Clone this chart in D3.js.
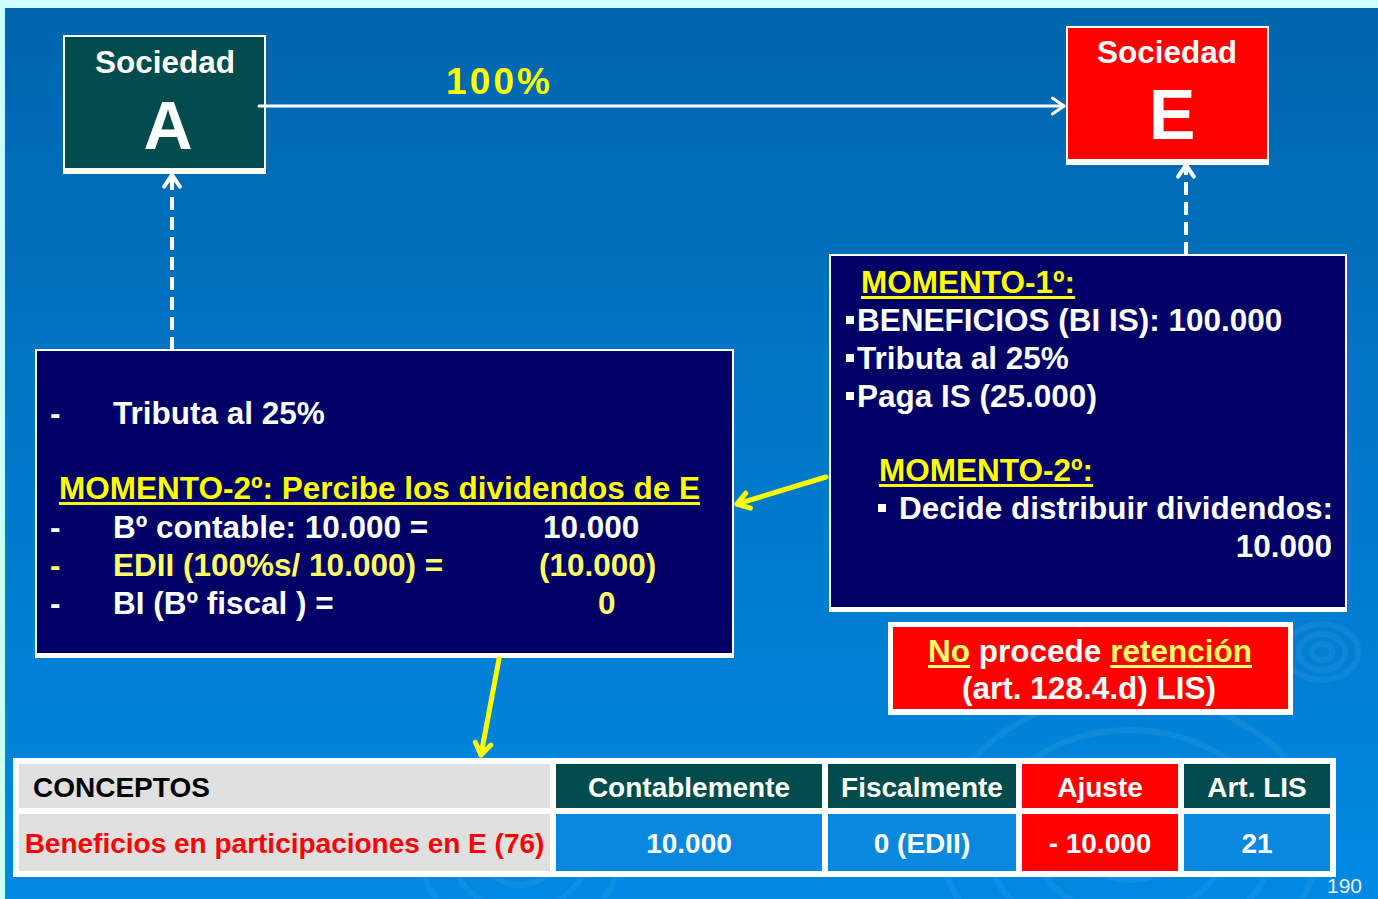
<!DOCTYPE html>
<html>
<head>
<meta charset="utf-8">
<script src="https://cdn.jsdelivr.net/npm/d3@7"></script>
<style>
  html, body { margin: 0; padding: 0; background: #ccffff; }
  svg { display: block; font-family: "Liberation Sans", Arial, sans-serif; }
</style>
</head>
<body>
<svg id="slide" width="1378" height="899"></svg>
<script>
// slide content
const companyA = ["Sociedad", "A"];
const companyE = ["Sociedad", "E"];
const stake = "100%";
const moment1Title = "MOMENTO-1º:";
const moment1Lines = ["BENEFICIOS (BI IS): 100.000", "Tributa al 25%", "Paga IS (25.000)"];
const moment2Title = "MOMENTO-2º:";
const moment2Line = "Decide distribuir dividendos:";
const dividendAmount = "10.000";
const receiverTax = "Tributa al 25%";
const receiverTitle = "MOMENTO-2º: Percibe los dividendos de E";
const calcLabels = ["Bº contable: 10.000 =", "EDII (100%s/ 10.000) =", "BI (Bº fiscal ) ="];
const calcValues = ["10.000", "(10.000)", "0"];
const retentionParts = ["No", " procede ", "retención"];
const retentionNote = "(art. 128.4.d) LIS)";
const tableHeaders = ["CONCEPTOS", "Contablemente", "Fiscalmente", "Ajuste", "Art. LIS"];
const tableRow = ["Beneficios en participaciones en E (76)", "10.000", "0 (EDII)", "- 10.000", "21"];
const pageNumber = "190";

const NAVY = "#000066", TEAL = "#004c4c", RED = "#ff0000", YEL = "#ffff00", PALE = "#ffff66";

const svg = d3.select('#slide');

// background
const defs = svg.append('defs');
const grad = defs.append('linearGradient').attr('id', 'bg').attr('x1', 0).attr('y1', 0).attr('x2', 0).attr('y2', 1);
grad.append('stop').attr('offset', '0%').attr('stop-color', '#0065ad');
grad.append('stop').attr('offset', '100%').attr('stop-color', '#0089e2');

svg.append('rect').attr('width', 1378).attr('height', 899).attr('fill', '#ccffff');
svg.append('rect').attr('x', 5).attr('y', 8).attr('width', 1373).attr('height', 891).attr('fill', 'url(#bg)');

// faint ripples
const ripples = svg.append('g').attr('fill', 'none').attr('stroke', '#ffffff').attr('stroke-opacity', 0.06).attr('stroke-width', 6);
[[1322, 652, [8, 18, 28]], [1130, 840, [40, 75, 110, 145]], [520, 860, [25, 50, 75]]].forEach(([cx, cy, rs]) => {
  rs.forEach(r => ripples.append('ellipse').attr('cx', cx).attr('cy', cy).attr('rx', r * 1.3).attr('ry', r));
});

function txt(g, x, y, s, o = {}) {
  return g.append('text')
    .attr('x', x).attr('y', y)
    .attr('font-size', o.size || 31.5)
    .attr('font-weight', o.weight || 'bold')
    .attr('fill', o.fill || '#ffffff')
    .attr('text-anchor', o.anchor || 'start')
    .text(s);
}

function underline(g, node, y, color) {
  const b = node.node().getBBox();
  g.append('rect').attr('x', b.x).attr('y', y).attr('width', b.width).attr('height', 3).attr('fill', color);
}

function box(x, y, w, h, fill, bottom) {
  svg.append('rect').attr('x', x).attr('y', y).attr('width', w).attr('height', h).attr('fill', '#ffffff');
  svg.append('rect').attr('x', x + 2).attr('y', y + 2).attr('width', w - 4).attr('height', h - 2 - bottom).attr('fill', fill);
}

function arrow(x1, y1, x2, y2, color, width, dash) {
  const line = d3.line();
  const g = svg.append('g').attr('fill', 'none').attr('stroke-linejoin', 'round');
  g.append('path').attr('d', line([[x1, y1], [x2, y2]]))
    .attr('stroke', color).attr('stroke-width', width)
    .attr('stroke-dasharray', dash || null).attr('stroke-linecap', dash ? 'butt' : 'round');
  const a = Math.atan2(y2 - y1, x2 - x1), L = 14, s = 0.6;
  const p1 = [x2 - L * Math.cos(a - s), y2 - L * Math.sin(a - s)];
  const p2 = [x2 - L * Math.cos(a + s), y2 - L * Math.sin(a + s)];
  g.append('path').attr('d', line([p1, [x2, y2], p2]))
    .attr('stroke', color).attr('stroke-width', width).attr('stroke-linecap', 'round');
}

// company boxes
box(63, 35, 203, 139, TEAL, 6);
txt(svg, 165, 73, companyA[0], { anchor: 'middle' });
txt(svg, 168, 149, companyA[1], { size: 68, anchor: 'middle' });

box(1066, 26, 203, 139, RED, 6);
txt(svg, 1167, 63, companyE[0], { anchor: 'middle' });
txt(svg, 1172, 139, companyE[1], { size: 70, anchor: 'middle' });

arrow(259, 106, 1064, 106, '#ffffff', 3);
txt(svg, 446, 94, stake, { size: 37, fill: YEL }).attr('textLength', 104).attr('lengthAdjust', 'spacing');

arrow(172, 350, 172, 175, '#ffffff', 4, '13 7');
arrow(1186, 255, 1186, 165, '#ffffff', 4, '13 7');

// moment 1 box (company E)
box(829, 254, 518, 358, NAVY, 5);
const m1 = svg.append('g');
const m1t = txt(m1, 861, 293, moment1Title, { fill: YEL });
underline(m1, m1t, 296, YEL);
moment1Lines.forEach((s, i) => {
  const y = 331 + i * 38;
  m1.append('rect').attr('x', 846).attr('y', y - 15).attr('width', 8).attr('height', 8).attr('fill', '#ffffff');
  txt(m1, 857, y, s);
});
const m2t = txt(m1, 879, 481, moment2Title, { fill: YEL });
underline(m1, m2t, 484, YEL);
m1.append('rect').attr('x', 878).attr('y', 504).attr('width', 8).attr('height', 8).attr('fill', '#ffffff');
txt(m1, 899, 519, moment2Line);
txt(m1, 1332, 557, dividendAmount, { anchor: 'end' });

// moment 2 box (company A)
box(35, 349, 699, 309, NAVY, 5);
const m2 = svg.append('g');
txt(m2, 50, 424, '-');
txt(m2, 113, 424, receiverTax);
const rt = txt(m2, 59, 499, receiverTitle, { fill: YEL });
underline(m2, rt, 502, YEL);
const valueX = [543, 539, 598];
calcLabels.forEach((s, i) => {
  const y = 538 + i * 38;
  const c = i === 1 ? PALE : '#ffffff';
  txt(m2, 50, y, '-', { fill: c });
  txt(m2, 113, y, s, { fill: c });
  txt(m2, valueX[i], y, calcValues[i], { fill: i === 0 ? '#ffffff' : PALE });
});

arrow(826, 477, 737, 504, YEL, 5);
arrow(499, 659, 481, 755, YEL, 5);

// retention note
svg.append('rect').attr('x', 888).attr('y', 622).attr('width', 405).attr('height', 93).attr('fill', '#ffffff');
svg.append('rect').attr('x', 893).attr('y', 627).attr('width', 395).attr('height', 82).attr('fill', RED);
const rn = svg.append('g');
const partColors = [PALE, '#ffffff', PALE];
const parts = retentionParts.map((s, i) => txt(rn, 0, 662, s, { fill: partColors[i] }).style('white-space', 'pre'));
const widths = parts.map(p => p.node().getComputedTextLength());
let px = 1090 - d3.sum(widths) / 2;
parts.forEach((p, i) => {
  p.attr('x', px);
  if (i !== 1) rn.append('rect').attr('x', px).attr('y', 665).attr('width', widths[i]).attr('height', 3).attr('fill', PALE);
  px += widths[i];
});
txt(rn, 1089, 699, retentionNote, { anchor: 'middle' });

// table
const cols = [[19, 550], [556, 822], [828, 1016], [1022, 1178], [1184, 1330]];
const headFill = ['#e0e0e0', TEAL, TEAL, RED, TEAL];
const rowFill = ['#e0e0e0', '#0a88de', '#0a88de', RED, '#0a88de'];
const table = svg.append('g');
table.append('rect').attr('x', 13).attr('y', 758).attr('width', 1323).attr('height', 119).attr('fill', '#ffffff');

table.selectAll('rect.head').data(tableHeaders).join('rect')
  .attr('class', 'head')
  .attr('x', (d, i) => cols[i][0]).attr('y', 764)
  .attr('width', (d, i) => cols[i][1] - cols[i][0]).attr('height', 44)
  .attr('fill', (d, i) => headFill[i]);
table.selectAll('text.head').data(tableHeaders).join('text')
  .attr('class', 'head')
  .attr('x', (d, i) => i === 0 ? 33 : (cols[i][0] + cols[i][1]) / 2)
  .attr('y', 797)
  .attr('text-anchor', (d, i) => i === 0 ? 'start' : 'middle')
  .attr('font-size', 28).attr('font-weight', 'bold')
  .attr('fill', (d, i) => i === 0 ? '#000000' : '#ffffff')
  .text(d => d);

table.selectAll('rect.row').data(tableRow).join('rect')
  .attr('class', 'row')
  .attr('x', (d, i) => cols[i][0]).attr('y', 814)
  .attr('width', (d, i) => cols[i][1] - cols[i][0]).attr('height', 57)
  .attr('fill', (d, i) => rowFill[i]);
table.selectAll('text.row').data(tableRow).join('text')
  .attr('class', 'row')
  .attr('x', (d, i) => (cols[i][0] + cols[i][1]) / 2)
  .attr('y', 853)
  .attr('text-anchor', 'middle')
  .attr('font-size', 28).attr('font-weight', 'bold')
  .attr('fill', (d, i) => i === 0 ? RED : '#ffffff')
  .text(d => d);

txt(svg, 1362, 893, pageNumber, { size: 21, weight: 'normal', fill: '#e6eef6', anchor: 'end' });
</script>
</body>
</html>
